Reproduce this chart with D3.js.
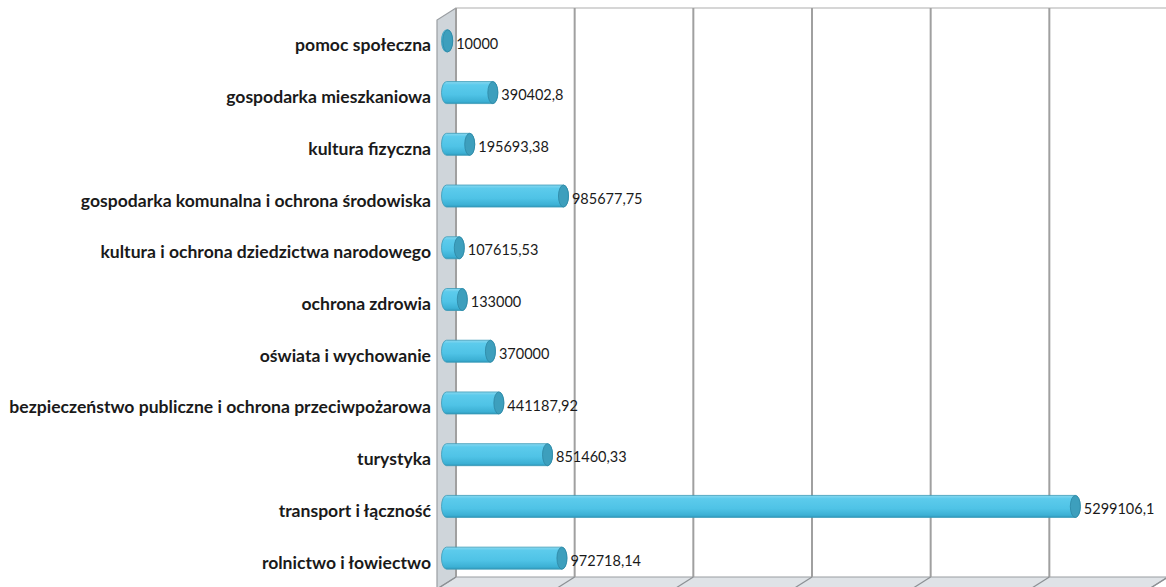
<!DOCTYPE html>
<html><head><meta charset="utf-8">
<script src="https://cdn.jsdelivr.net/npm/d3@7"></script>
<style>body{margin:0;background:#fff;}svg{display:block;}</style>
</head><body>
<script>
const categories = [
  "pomoc społeczna",
  "gospodarka mieszkaniowa",
  "kultura fizyczna",
  "gospodarka komunalna i ochrona środowiska",
  "kultura i ochrona dziedzictwa narodowego",
  "ochrona zdrowia",
  "oświata i wychowanie",
  "bezpieczeństwo publiczne i ochrona przeciwpożarowa",
  "turystyka",
  "transport i łączność",
  "rolnictwo i łowiectwo"
];
const values = [10000, 390402.8, 195693.38, 985677.75, 107615.53, 133000, 370000, 441187.92, 851460.33, 5299106.1, 972718.14];
const xTicks = [0, 1000000, 2000000, 3000000, 4000000, 5000000, 6000000];

(function(){
const W = 1166, H = 587;
const svg = d3.select("body").append("svg").attr("width", W).attr("height", H);
const defs = svg.append("defs");
const g1 = defs.append("linearGradient").attr("id","cyl").attr("x1",0).attr("y1",0).attr("x2",0).attr("y2",1);
[[0,"#8ad8f0"],[0.15,"#5ccbec"],[0.6,"#4fc3e6"],[0.9,"#3cb0d4"],[1,"#2e98bb"]].forEach(s=>g1.append("stop").attr("offset",s[0]).attr("stop-color",s[1]));

const x = d3.scaleLinear().domain([0, 6000000]).range([456, 1168]);
const y = d3.scaleBand().domain(categories).range([9, 578]);
const dx = -19, dy = 12;
const bx = dx/2, by = dy/2;

const yTop = 8, yBot = 577;
svg.append("path")
  .attr("d", `M${x(0)},${yTop} L${x(0)+dx},${yTop+dy} L${x(0)+dx},${yBot+dy+20} L${x(0)},${yBot+20} Z`)
  .attr("fill","#cfd5da").attr("stroke","#9a9ea2").attr("stroke-width",1.2);
svg.append("path")
  .attr("d", `M${x(0)},${yBot} L${x(6000000)},${yBot} L${x(6000000)+dx},${yBot+dy} L${x(0)+dx},${yBot+dy} Z`)
  .attr("fill","#dfe3e7").attr("stroke","#9a9ea2").attr("stroke-width",1.2);
svg.append("line").attr("x1",x(0)).attr("x2",W).attr("y1",yTop).attr("y2",yTop).attr("stroke","#d6d6d6").attr("stroke-width",2);
svg.selectAll("line.grid").data(xTicks).enter().append("line").attr("class","grid")
  .attr("x1",d=>x(d)).attr("x2",d=>x(d)).attr("y1",yTop).attr("y2",yBot)
  .attr("stroke","#a0a0a0").attr("stroke-width",2);
svg.selectAll("line.fl").data(xTicks).enter().append("line").attr("class","fl")
  .attr("x1",d=>x(d)).attr("x2",d=>x(d)+dx).attr("y1",yBot).attr("y2",yBot+dy)
  .attr("stroke","#8c9094").attr("stroke-width",1.2);

const bh = 22, rx = 5, ry = bh/2;
const bars = svg.selectAll("g.bar").data(categories).enter().append("g").attr("class","bar");
bars.each(function(c,i){
  const gg = d3.select(this);
  const cy = y(c) + y.bandwidth()/2 + by;
  const x0 = x(0) + bx, x1 = x(values[i]) + bx;
  gg.append("path")
    .attr("d", `M${x0},${cy-ry} L${x1},${cy-ry} A${rx},${ry} 0 0 1 ${x1},${cy+ry} L${x0},${cy+ry} A${rx},${ry} 0 0 1 ${x0},${cy-ry} Z`)
    .attr("fill","url(#cyl)").attr("stroke","#3a9ab8").attr("stroke-width",0.8);
  gg.append("ellipse").attr("cx",x1).attr("cy",cy).attr("rx",rx).attr("ry",ry)
    .attr("fill","#3d9fbd").attr("stroke","#2d87a3").attr("stroke-width",0.8);
  gg.append("text").attr("x", x1 + rx + 3.5).attr("y", cy + 4)
    .attr("dominant-baseline","middle")
    .attr("font-family","Lato, 'Open Sans', sans-serif").attr("font-size",14.5).attr("fill","#1a1a1a")
    .text(String(values[i]).replace(".", ","));
});

const labels = svg.selectAll("text.cat").data(categories).enter().append("text")
  .attr("class","cat")
  .attr("x", 431)
  .attr("y", d => y(d) + y.bandwidth()/2 + dy)
  .attr("text-anchor","end").attr("dominant-baseline","middle")
  .attr("font-family","Lato, 'Open Sans', sans-serif").attr("font-weight","bold")
  .attr("font-size",15).attr("fill","#1a1a1a")
  .text(d=>d);
const longest = labels.filter((d,i)=>i===7).node();
const wlen = longest.getComputedTextLength();
labels.attr("font-size", 15 * 422 / wlen);
})();
</script>
</body></html>
